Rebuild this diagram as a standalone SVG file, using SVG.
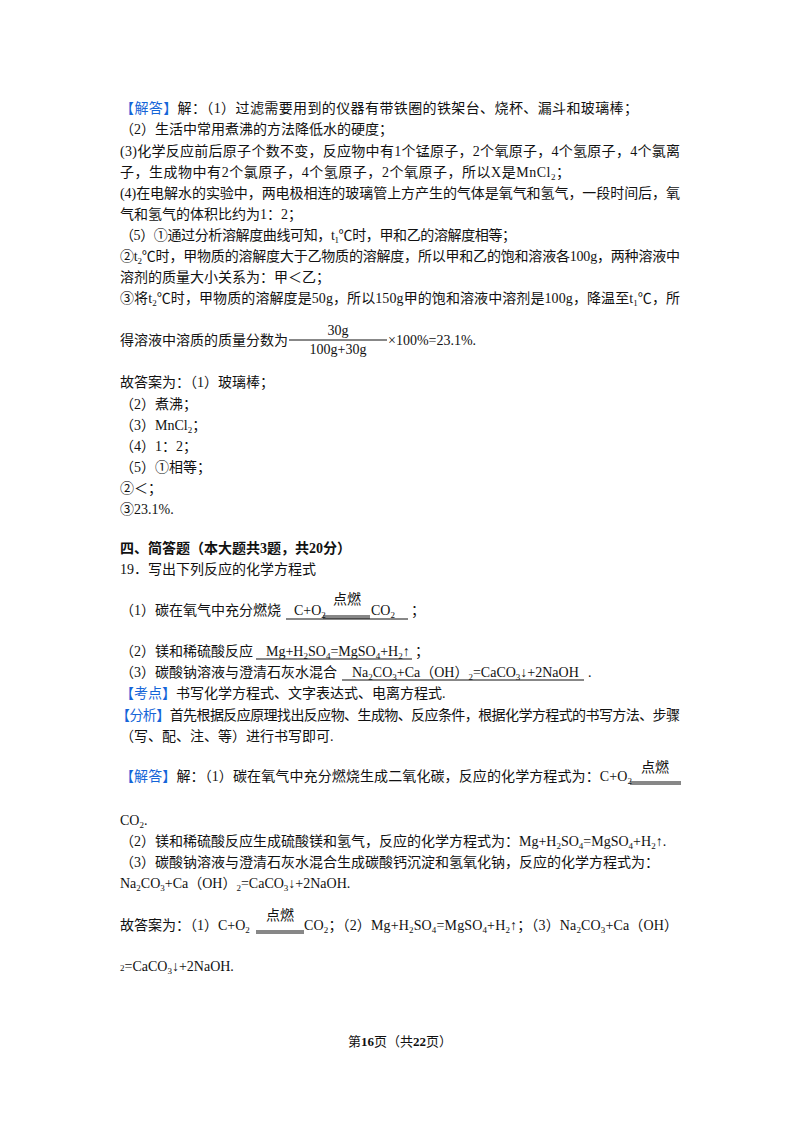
<svg xmlns="http://www.w3.org/2000/svg" width="800" height="1132" viewBox="0 0 800 1132">
<style>
text{font-family:"Liberation Serif","Noto Sans CJK SC",serif;font-size:14px;fill:#111}
.b{fill:#1565d8}
.h{font-weight:bold}
.s{font-size:9px}
.u{stroke:#111;stroke-width:1;fill:none}
</style>
<rect width="800" height="1132" fill="#fff"/>
<text x="120" y="113" textLength="518" lengthAdjust="spacing"><tspan class="b">【解答】</tspan>解：（1）过滤需要用到的仪器有带铁圈的铁架台、烧杯、漏斗和玻璃棒；</text>
<text x="120" y="134">（2）生活中常用煮沸的方法降低水的硬度；</text>
<text x="120" y="156" textLength="560" lengthAdjust="spacing">(3)化学反应前后原子个数不变，反应物中有1个锰原子，2个氧原子，4个氢原子，4个氯离</text>
<text x="120" y="177" textLength="450" lengthAdjust="spacing">子，生成物中有2个氯原子，4个氢原子，2个氧原子，所以X是MnCl<tspan class="s" dy="3">2</tspan><tspan dy="-3">；</tspan></text>
<text x="120" y="198" textLength="560" lengthAdjust="spacing">(4)在电解水的实验中，两电极相连的玻璃管上方产生的气体是氧气和氢气，一段时间后，氧</text>
<text x="120" y="219">气和氢气的体积比约为1：2；</text>
<text x="120" y="240" textLength="396" lengthAdjust="spacing">（5）①通过分析溶解度曲线可知，t<tspan class="s" dy="3">1</tspan><tspan dy="-3">℃时，甲和乙的溶解度相等；</tspan></text>
<text x="120" y="261" textLength="560" lengthAdjust="spacing">②t<tspan class="s" dy="3">2</tspan><tspan dy="-3">℃时，甲物质的溶解度大于乙物质的溶解度，所以甲和乙的饱和溶液各100g，两种溶液中</tspan></text>
<text x="120" y="282">溶剂的质量大小关系为：甲＜乙；</text>
<text x="120" y="303" textLength="560" lengthAdjust="spacing">③将t<tspan class="s" dy="3">2</tspan><tspan dy="-3">℃时，甲物质的溶解度是50g，所以150g甲的饱和溶液中溶剂是100g，降温至t</tspan><tspan class="s" dy="3">1</tspan><tspan dy="-3">℃，所</tspan></text>
<text x="120" y="345">得溶液中溶质的质量分数为</text>
<text x="338" y="335" text-anchor="middle">30g</text>
<line class="u" x1="289" y1="340" x2="387" y2="340"/>
<text x="338" y="354" text-anchor="middle">100g+30g</text>
<text x="388" y="345">×100%=23.1%.</text>
<text x="120" y="387">故答案为：（1）玻璃棒；</text>
<text x="120" y="409">（2）煮沸；</text>
<text x="120" y="430">（3）MnCl<tspan class="s" dy="3">2</tspan><tspan dy="-3">；</tspan></text>
<text x="120" y="451">（4）1：2；</text>
<text x="120" y="472">（5）①相等；</text>
<text x="120" y="493">②＜；</text>
<text x="120" y="514">③23.1%.</text>
<text x="120" y="553" class="h">四、简答题（本大题共3题，共20分）</text>
<text x="120" y="574">19．写出下列反应的化学方程式</text>
<text x="120" y="615">（1）碳在氧气中充分燃烧</text>
<text x="294" y="615">C+O<tspan class="s" dy="3">2</tspan></text>
<text x="347" y="604" text-anchor="middle">点燃</text>
<line class="u" x1="323" y1="616" x2="370" y2="616"/><line class="u" x1="323" y1="618" x2="370" y2="618"/>
<text x="371" y="615">CO<tspan class="s" dy="3">2</tspan></text>
<line class="u" x1="286" y1="619" x2="408" y2="619"/>
<text x="411" y="615">；</text>
<text x="120" y="656">（2）镁和稀硫酸反应</text>
<text x="266" y="656">Mg+H<tspan class="s" dy="3">2</tspan><tspan dy="-3">SO</tspan><tspan class="s" dy="3">4</tspan><tspan dy="-3">=MgSO</tspan><tspan class="s" dy="3">4</tspan><tspan dy="-3">+H</tspan><tspan class="s" dy="3">2</tspan><tspan dy="-3">↑</tspan></text>
<line class="u" x1="256" y1="659" x2="412" y2="659"/>
<text x="415" y="656">；</text>
<text x="120" y="677">（3）碳酸钠溶液与澄清石灰水混合</text>
<text x="352" y="677">Na<tspan class="s" dy="3">2</tspan><tspan dy="-3">CO</tspan><tspan class="s" dy="3">3</tspan><tspan dy="-3">+Ca（OH）</tspan><tspan class="s" dy="3">2</tspan><tspan dy="-3">=CaCO</tspan><tspan class="s" dy="3">3</tspan><tspan dy="-3">↓+2NaOH</tspan></text>
<line class="u" x1="342" y1="680" x2="584" y2="680"/>
<text x="588" y="677">.</text>
<text x="120" y="698"><tspan class="b">【考点】</tspan>书写化学方程式、文字表达式、电离方程式.</text>
<text x="116" y="720" textLength="564" lengthAdjust="spacing"><tspan class="b">【分析】</tspan>首先根据反应原理找出反应物、生成物、反应条件，根据化学方程式的书写方法、步骤</text>
<text x="120" y="741">（写、配、注、等）进行书写即可.</text>
<text x="120" y="781" textLength="512" lengthAdjust="spacing"><tspan class="b">【解答】</tspan>解：（1）碳在氧气中充分燃烧生成二氧化碳，反应的化学方程式为：C+O<tspan class="s" dy="3">2</tspan></text>
<text x="655" y="772" text-anchor="middle">点燃</text>
<line class="u" x1="630" y1="782" x2="681" y2="782"/><line class="u" x1="630" y1="784" x2="681" y2="784"/>
<text x="120" y="825">CO<tspan class="s" dy="3">2</tspan><tspan dy="-3">.</tspan></text>
<text x="120" y="846">（2）镁和稀硫酸反应生成硫酸镁和氢气，反应的化学方程式为：Mg+H<tspan class="s" dy="3">2</tspan><tspan dy="-3">SO</tspan><tspan class="s" dy="3">4</tspan><tspan dy="-3">=MgSO</tspan><tspan class="s" dy="3">4</tspan><tspan dy="-3">+H</tspan><tspan class="s" dy="3">2</tspan><tspan dy="-3">↑.</tspan></text>
<text x="120" y="867">（3）碳酸钠溶液与澄清石灰水混合生成碳酸钙沉淀和氢氧化钠，反应的化学方程式为：</text>
<text x="120" y="888">Na<tspan class="s" dy="3">2</tspan><tspan dy="-3">CO</tspan><tspan class="s" dy="3">3</tspan><tspan dy="-3">+Ca（OH）</tspan><tspan class="s" dy="3">2</tspan><tspan dy="-3">=CaCO</tspan><tspan class="s" dy="3">3</tspan><tspan dy="-3">↓+2NaOH.</tspan></text>
<text x="120" y="930">故答案为：（1）C+O<tspan class="s" dy="3">2</tspan></text>
<text x="280" y="920" text-anchor="middle">点燃</text>
<line class="u" x1="256" y1="931" x2="304" y2="931"/><line class="u" x1="256" y1="933" x2="304" y2="933"/>
<text x="304" y="930" textLength="374" lengthAdjust="spacing">CO<tspan class="s" dy="3">2</tspan><tspan dy="-3">；（2）Mg+H</tspan><tspan class="s" dy="3">2</tspan><tspan dy="-3">SO</tspan><tspan class="s" dy="3">4</tspan><tspan dy="-3">=MgSO</tspan><tspan class="s" dy="3">4</tspan><tspan dy="-3">+H</tspan><tspan class="s" dy="3">2</tspan><tspan dy="-3">↑；（3）Na</tspan><tspan class="s" dy="3">2</tspan><tspan dy="-3">CO</tspan><tspan class="s" dy="3">3</tspan><tspan dy="-3">+Ca（OH）</tspan></text>
<text x="120" y="971"><tspan class="s">2</tspan>=CaCO<tspan class="s" dy="3">3</tspan><tspan dy="-3">↓+2NaOH.</tspan></text>
<text x="400" y="1046" text-anchor="middle" style="font-size:13px">第<tspan class="h">16</tspan>页（共<tspan class="h">22</tspan>页）</text>
</svg>
